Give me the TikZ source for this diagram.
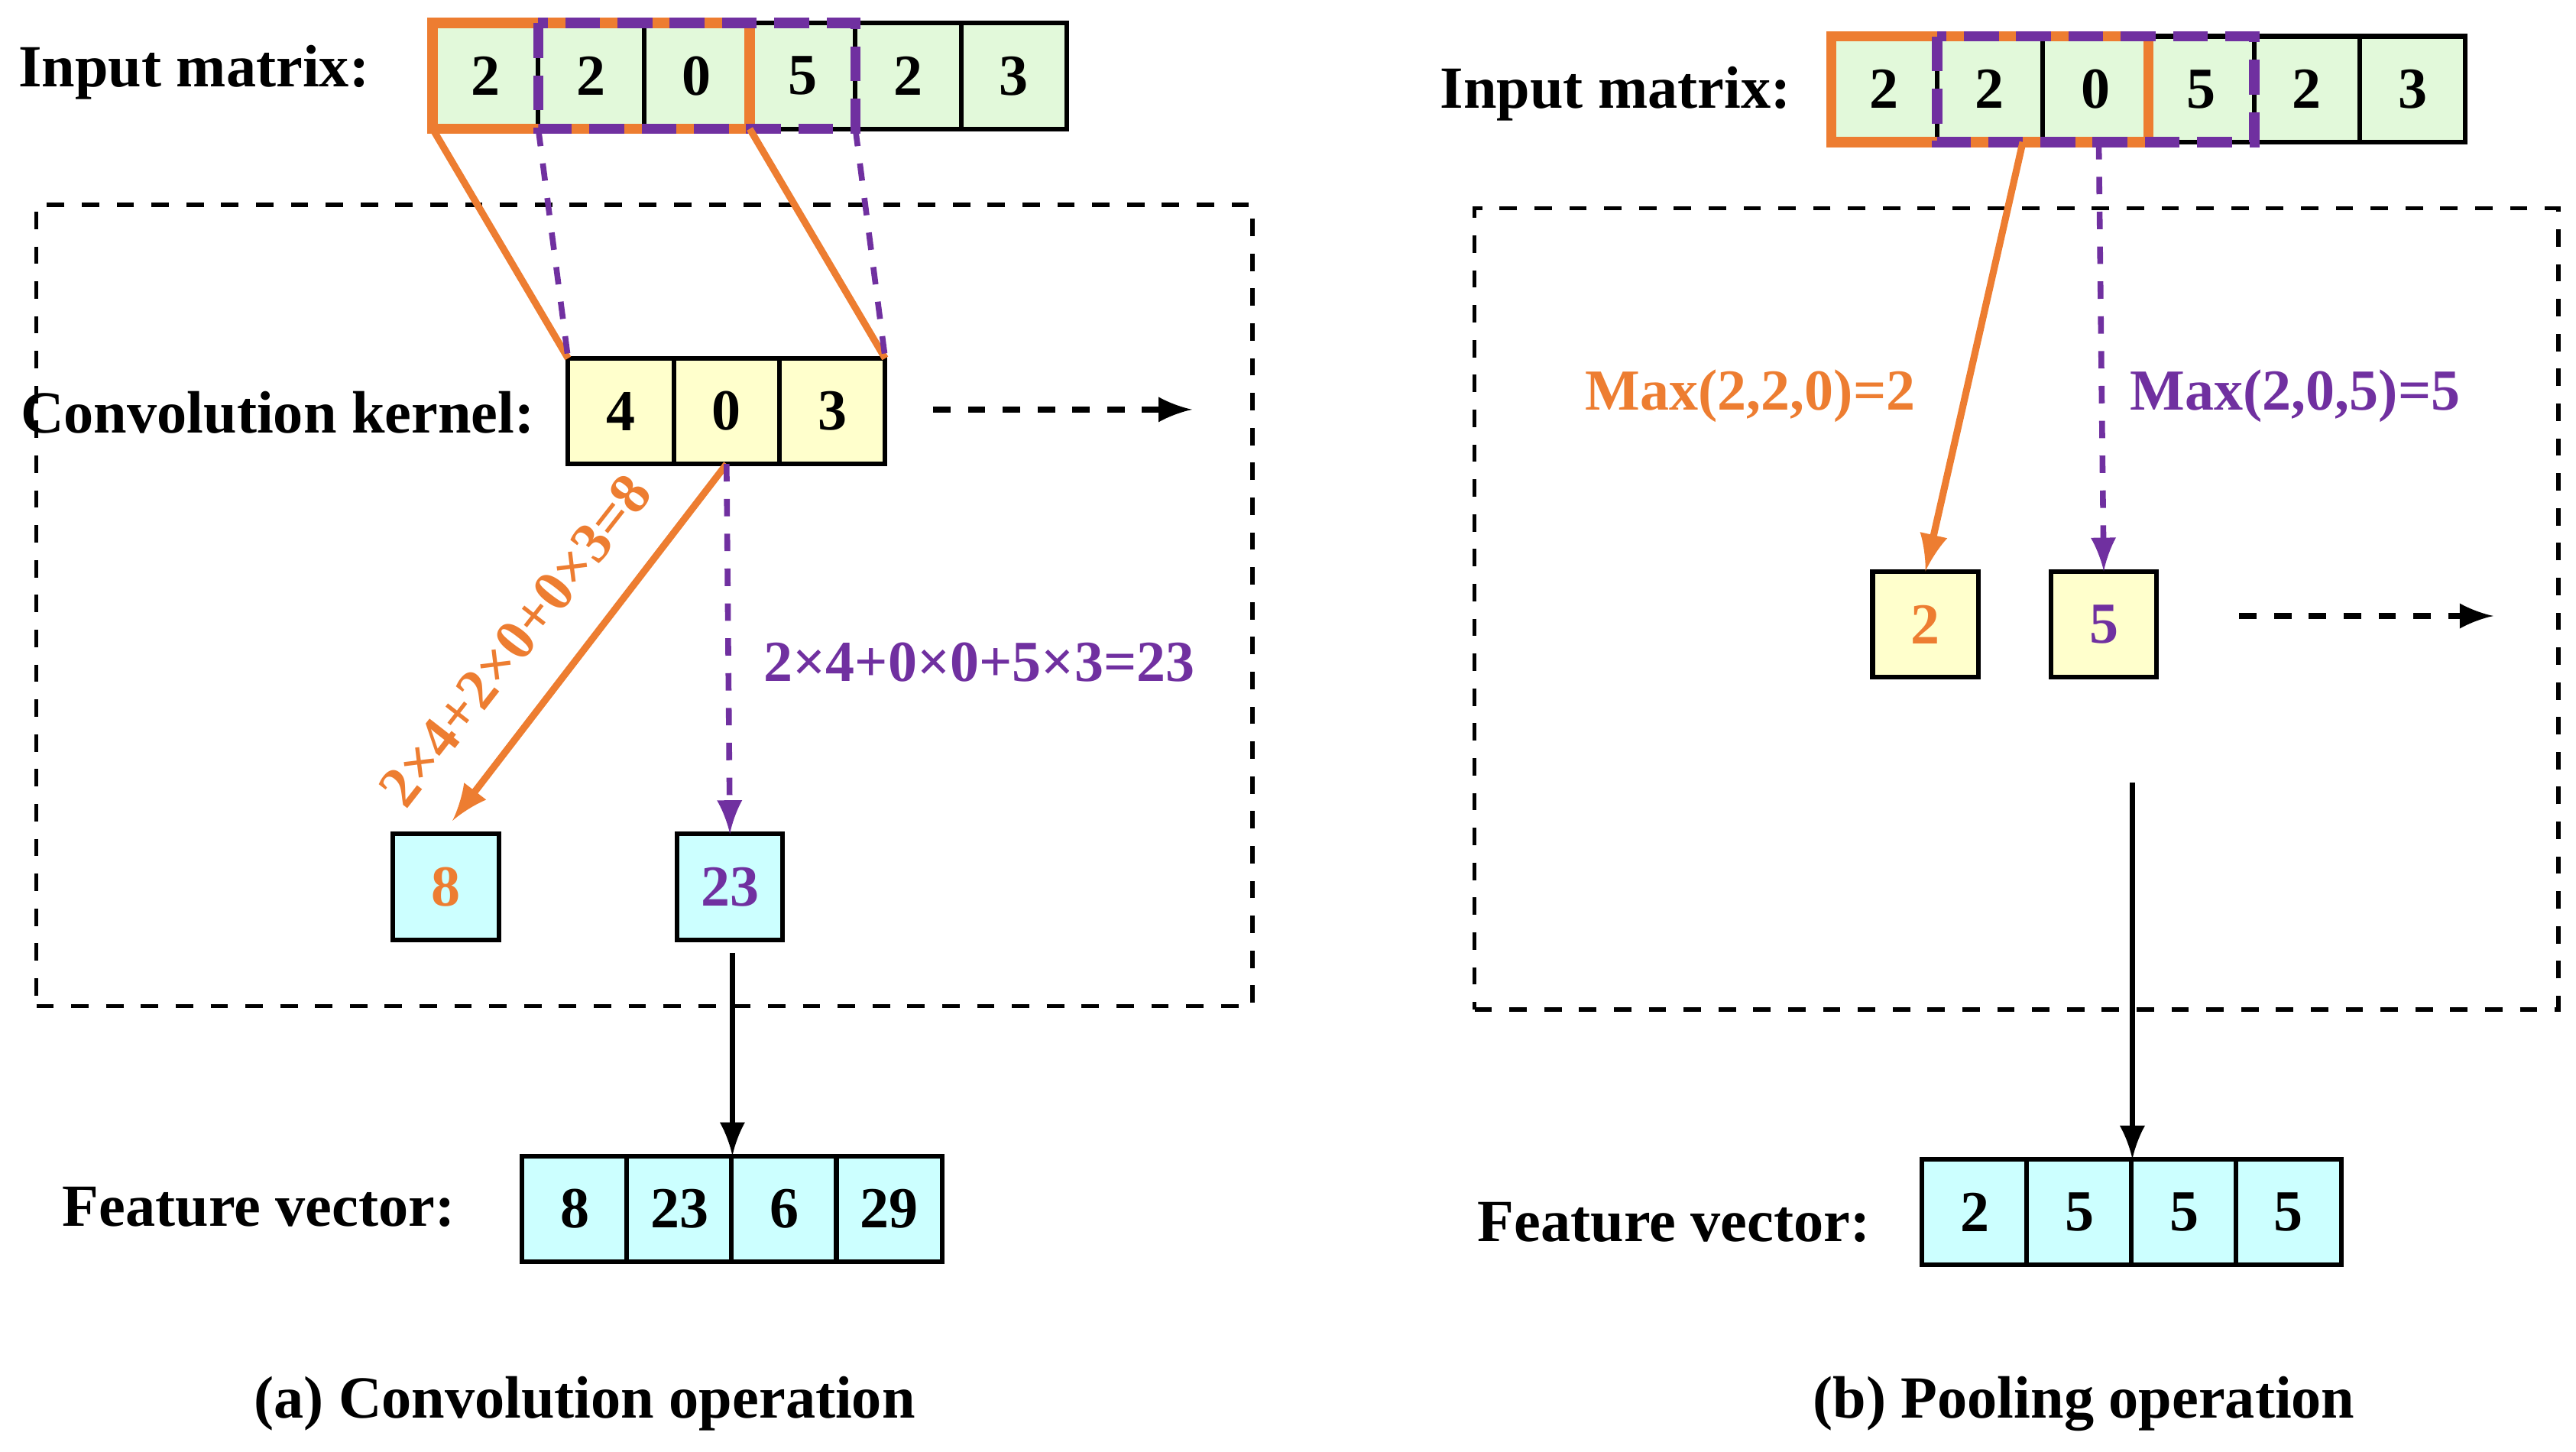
\documentclass[tikz,border=0pt]{standalone}
\usepackage{fontspec}
\setmainfont{Liberation Serif}
\definecolor{og}{HTML}{ED7D31}
\definecolor{pp}{HTML}{7030A0}
\definecolor{gr}{HTML}{E2F9DA}
\definecolor{yl}{HTML}{FFFFCC}
\definecolor{cy}{HTML}{CCFFFF}
\begin{document}
\begin{tikzpicture}[x=0.01cm,y=-0.01cm,
  every node/.style={font=\fontsize{10}{12}\selectfont\bfseries},
  cell/.style={draw,line width=0.8pt,minimum width=0.64cm,minimum height=0.64cm,inner sep=0pt,outer sep=0pt,anchor=north west},
  g/.style={cell,fill=gr}, yc/.style={cell,fill=yl}, cc/.style={cell,fill=cy},
  obox/.style={draw=og,line width=1.8pt},
  pbox/.style={draw=pp,line width=1.8pt,dash pattern=on 6pt off 3pt},
  box/.style={draw,dashed,line width=0.7pt,outer sep=0pt},
  oarr/.style={draw=og,line width=1.2pt,-latex},
  parr/.style={draw=pp,line width=1pt,dashed,-latex},
  lbl/.style={font=\fontsize{10.3}{12}\selectfont\bfseries}]
\useasboundingbox (0,0) rectangle (1560,879);
% ---------- left
\foreach \v [count=\i] in {2,2,0,5,2,3}
  \node[g] (a\i) at ({262+64*(\i-1)},14) {\v};
\node[lbl,anchor=east] (lai) at (236,44) {Input matrix:};
\draw[obox] (a1.north west) rectangle (a3.south east);
\draw[pbox] (a2.north west) rectangle (a4.south east);
\node[box,minimum width=7.36cm,minimum height=4.85cm,anchor=north west] (bl) at (22,124) {};
\foreach \v [count=\i] in {4,0,3}
  \node[yc] (k\i) at ({344+64*(\i-1)},217) {\v};
\node[lbl,anchor=east] (lk) at (336,250) {Convolution kernel:};
\draw[og,line width=1.2pt] (a1.south west) -- (k1.north west);
\draw[og,line width=1.2pt] (a3.south east) -- (k3.north east);
\draw[pp,line width=1pt,dashed] (a2.south west) -- (k1.north west);
\draw[pp,line width=1pt,dashed] (a4.south east) -- (k3.north east);
\coordinate (d1) at (565,248); \coordinate (d2) at (722,248);
\draw[dashed,line width=1pt,-latex] (d1) -- (d2);
\node[cc,text=og] (r1) at (238,505) {8};
\node[cc,text=pp] (r2) at (410,505) {23};
\coordinate (ks) at (440,281);
\draw[oarr] (ks) -- ([xshift=0.04cm,yshift=0.08cm]r1.north);
\draw[parr] (ks) -- (r2.north);
\node[text=og,rotate=52,inner sep=0pt] (e1) at (312,388) {2×4+2×0+0×3=8};
\node[text=pp] (e2) at (593,401) {2×4+0×0+5×3=23};
\foreach \v [count=\i] in {8,23,6,29}
  \node[cc] (f\i) at ({316+63.5*(\i-1)},700) {\v};
\node[lbl,anchor=east] (lf) at (288,731) {Feature vector:};
\coordinate (t1) at (0,577);
\draw[line width=1pt,-latex] (f2.north east |- t1) -- (f2.north east);
\node[lbl] (ca) at (354,850) {(a) Convolution operation};
% ---------- right
\foreach \v [count=\i] in {2,2,0,5,2,3}
  \node[g] (b\i) at ({1109+64*(\i-1)},22) {\v};
\node[lbl,anchor=east] (lbi) at (1097,57) {Input matrix:};
\draw[obox] (b1.north west) rectangle (b3.south east);
\draw[pbox] (b2.north west) rectangle (b4.south east);
\node[box,minimum width=6.56cm,minimum height=4.85cm,anchor=north west] (br) at (893,126) {};
\node[yc,text=og] (m1) at (1134,346) {2};
\node[yc,text=pp] (m2) at (1242,346) {5};
\coordinate (s1) at (1225,86); \coordinate (s2) at (1271,86);
\draw[oarr] (s1) -- (m1.north);
\draw[parr] (s2) -- (m2.north);
\node[text=og] (x1) at (1060,240) {Max(2,2,0)=2};
\node[text=pp] (x2) at (1390,240) {Max(2,0,5)=5};
\coordinate (d3) at (1356,373); \coordinate (d4) at (1510,373);
\draw[dashed,line width=1pt,-latex] (d3) -- (d4);
\foreach \v [count=\i] in {2,5,5,5}
  \node[cc] (g\i) at ({1164+63.3*(\i-1)},702) {\v};
\node[lbl,anchor=east] (lg) at (1145,740) {Feature vector:};
\coordinate (t2) at (0,474);
\draw[line width=1pt,-latex] (g2.north east |- t2) -- (g2.north east);
\node[lbl] (cb) at (1262,850) {(b) Pooling operation};
\end{tikzpicture}
\end{document}
